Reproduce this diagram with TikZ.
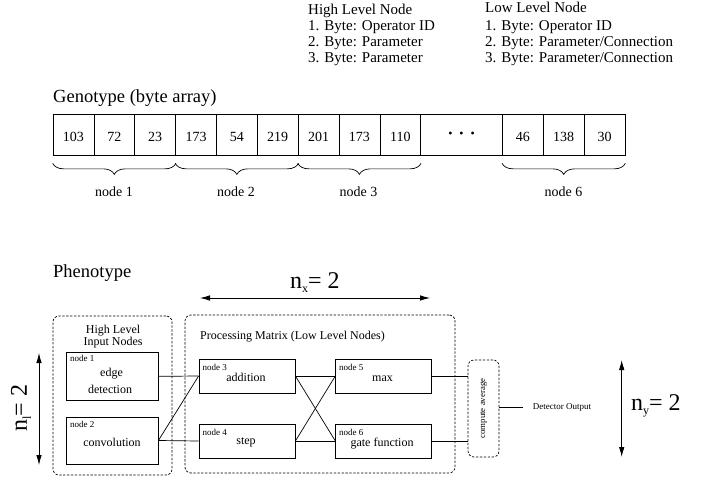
\documentclass[tikz,border=0pt]{standalone}
\usepackage{fontspec}
\setmainfont{Liberation Serif}
\usetikzlibrary{arrows.meta,decorations.pathreplacing}
\newcommand{\fsz}[1]{\fontsize{#1}{#1}\selectfont}
\tikzset{
  txt/.style={inner sep=0pt, anchor=base},
  txtl/.style={inner sep=0pt, anchor=base west},
  hdr/.style={txtl, font=\fsz{15}},
  cell/.style={draw, line width=0.7pt, inner sep=0pt, minimum width=40.857pt, minimum height=40.5pt,
               font=\fsz{14}, text height=14pt, text depth=0pt},
  brc/.style={decorate, decoration={brace, mirror, amplitude=11pt}, line width=0.7pt},
  bigbox/.style={draw, line width=0.8pt, inner sep=0pt, minimum width=91.3pt, minimum height=47.3pt},
  lowbox/.style={draw, line width=0.8pt, inner sep=0pt, minimum width=95.5pt, minimum height=34pt},
  dbox/.style={draw, line width=0.7pt, dash pattern=on 2.3pt off 1.6pt, rounded corners=6pt, inner sep=0pt},
  small/.style={txtl, font=\fsz{9}},
  ntext/.style={txt, font=\fsz{12}},
  dim/.style={{Latex[length=10pt,width=5.5pt]}-{Latex[length=10pt,width=5.5pt]}, line width=0.8pt},
  wire/.style={line width=0.7pt}
}
\begin{document}
\begin{tikzpicture}[x=1pt,y=-1pt]
\useasboundingbox (0,0) rectangle (703,481);

% header texts
\node[hdr] (h1) at (308,15) {High Level Node};
\node[hdr] (h2) at (308,31) {1. Byte: Operator ID};
\node[hdr] (h3) at (308,46.8) {2. Byte: Parameter};
\node[hdr] (h4) at (308,62.5) {3. Byte: Parameter};
\node[hdr] (l1) at (485,13) {Low Level Node};
\node[hdr] (l2) at (485,31) {1. Byte: Operator ID};
\node[hdr] (l3) at (485,46.8) {2. Byte: Parameter/Connection};
\node[hdr] (l4) at (485,62.5) {3. Byte: Parameter/Connection};

% genotype
\node[txtl, font=\fsz{18.5}] (geno) at (53,102.5) {Genotype (byte array)};
\foreach \v [count=\i] in {103,72,23,173,54,219,201,173,110}
  \node[cell] (c\i) at ({53+(\i-0.5)*40.857},134.75) {\v};
\node[cell, minimum width=81.714pt] (dots) at ({53+10*40.857},134.75) {};
\node[inner sep=0pt, font=\fsz{12}] (dd) at (dots.center) {\textbullet\hspace{7pt}\textbullet\hspace{7pt}\textbullet};
\foreach \v [count=\i from 12] in {46,138,30}
  \node[cell] (c\i) at ({53+(\i-0.5)*40.857},134.75) {\v};

\draw[brc] ([yshift=-8pt]c1.south west) -- ([yshift=-8pt]c3.south east);
\draw[brc] ([yshift=-8pt]c4.south west) -- ([yshift=-8pt]c6.south east);
\draw[brc] ([yshift=-8pt]c7.south west) -- ([yshift=-8pt]c9.south east);
\draw[brc] ([yshift=-8pt]c12.south west) -- ([yshift=-8pt]c14.south east);
\node[txt, font=\fsz{14}] (bn1) at (114,196) {node 1};
\node[txt, font=\fsz{14}] (bn2) at (236,196) {node 2};
\node[txt, font=\fsz{14}] (bn3) at (358.5,196) {node 3};
\node[txt, font=\fsz{14}] (bn6) at (563.5,196) {node 6};

% phenotype
\node[txtl, font=\fsz{18.5}] (pheno) at (53,277.5) {Phenotype};

\coordinate (nxL) at (200,298);
\coordinate (nxR) at (430,298);
\draw[dim] (nxL) -- (nxR);
\node[txtl] (nxlab) at (290,288) {\fsz{24}n\raisebox{-4pt}{\fsz{12}x}\fsz{24}= 2};

\node[dbox, minimum width=119pt, minimum height=159pt] (hl) at (112.5,395.5) {};
\node[txt, font=\fsz{12}] (hlt1) at (113,333.3) {High Level};
\node[txt, font=\fsz{12}] (hlt2) at (113,345.5) {Input Nodes};

\node[dbox, minimum width=270pt, minimum height=158pt] (pm) at (320,394) {};
\node[txtl, font=\fsz{12}] (pmt) at (200,339) {Processing Matrix (Low Level Nodes)};

\node[bigbox] (n1) at (112.35,376.35) {};
\node[bigbox, minimum height=47pt] (n2) at (112.35,440.5) {};
\node[lowbox, minimum width=96pt] (n3) at (247,376) {};
\node[lowbox, minimum width=96pt] (n4) at (247,441) {};
\node[lowbox] (n5) at (383.5,376) {};
\node[lowbox] (n6) at (383.5,441) {};

\node[small] (s1) at (70,361.5) {node 1};
\node[small] (s2) at (70,427) {node 2};
\node[small] (s3) at (202.5,370) {node 3};
\node[small] (s4) at (202.5,435.5) {node 4};
\node[small] (s5) at (339,370) {node 5};
\node[small] (s6) at (339,435) {node 6};

\node[ntext] (t1a) at (111.5,376.5) {edge};
\node[ntext] (t1b) at (110,393.2) {detection};
\node[ntext] (t2) at (112,446.5) {convolution};
\node[ntext] (t3) at (246,381.5) {addition};
\node[ntext] (t4) at (246,444.5) {step};
\node[ntext] (t5) at (382.5,381) {max};
\node[ntext] (t6) at (382,446) {gate function};

\node[dbox, minimum width=31pt, minimum height=97pt] (avg) at (483.5,408.5) {};
\node[inner sep=0pt, rotate=90, font=\fsz{8.8}] (avgt) at (avg.center) {compute average};

\draw[wire] (n1.east) -- (n3.west);
\draw[wire] (n2.east) -- (n3.west);
\draw[wire] (n2.east) -- (n4.west);
\draw[wire] (n3.east) -- (n5.west);
\draw[wire] (n3.east) -- (n6.west);
\draw[wire] (n4.east) -- (n5.west);
\draw[wire] (n4.east) -- (n6.west);
\draw[wire] (n5.east) -- (n5.east -| avg.west);
\draw[wire] (n6.east) -- (n6.east -| avg.west);
\coordinate (detend) at (523,407);
\draw[wire] (avg.east |- detend) -- (detend);
\node[inner sep=0pt, anchor=west, font=\fsz{9}] (det) at (532.7,407) {Detector Output};

% n_l
\coordinate (nlT) at (39,353);
\coordinate (nlB) at (39,465);
\draw[dim] (nlT) -- (nlB);
\node[inner sep=0pt, rotate=90] (nllab) at (21,408) {\fsz{24}n\raisebox{-4pt}{\fsz{12}l}\fsz{24}= 2};

% n_y
\coordinate (nyT) at (621.7,360);
\coordinate (nyB) at (621.7,457);
\draw[dim] (nyT) -- (nyB);
\node[txtl] (nylab) at (631,410) {\fsz{24}n\raisebox{-4pt}{\fsz{12}y}\fsz{24}= 2};
\end{tikzpicture}
\end{document}
